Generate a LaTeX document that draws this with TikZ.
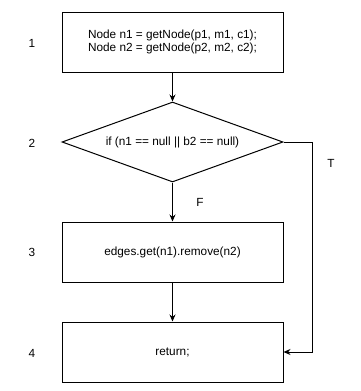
\documentclass[tikz,border=0pt]{standalone}
\usepackage{fontspec}
\setmainfont{Liberation Sans}
\usetikzlibrary{arrows.meta,shapes.geometric}

\begin{document}
\begin{tikzpicture}[
    x=1pt, y=-1pt,
    box/.style={rectangle, draw, line width=1pt, align=center,
                font=\fontsize{11.8}{13.5}\selectfont, minimum width=221pt,
                minimum height=60pt},
    cond/.style={diamond, draw, line width=1pt, aspect=2.76, inner sep=0pt,
                 font=\fontsize{11.8}{13.5}\selectfont, minimum width=221pt,
                 minimum height=80pt},
    num/.style={font=\fontsize{11.8}{13.5}\selectfont},
    >={Stealth[length=7pt,width=6pt]}
]
\useasboundingbox (0,0) rectangle (361,391);

% Bloques del flujo
\node[box] (get) at (172.5,42)
    {Node n1 = getNode(p1, m1, c1);\\Node n2 = getNode(p2, m2, c2);};

\node[cond] (test) at (172.5,142)
    {if (n1 == null || b2 == null)};

\node[box] (rem) at (172.5,252)
    {edges.get(n1).remove(n2)};

\node[box] (ret) at (172.5,352)
    {return;};

% Numeros de linea
\node[num] (l1) at (32,43) {1};
\node[num] (l2) at (32,143) {2};
\node[num] (l3) at (32,252) {3};
\node[num] (l4) at (32,353) {4};

% Flechas
\draw[->, line width=1pt] (get) -- (test);
\draw[->, line width=1pt] (test) -- (rem);
\draw[->, line width=1pt] (rem) -- (ret);

\coordinate (tturn) at (312,142);
\draw[->, line width=1pt] (test.east) -- (tturn) |- (ret.east);

% Etiquetas de rama
\node[num] (tl) at (331,163) {T};
\node[num] (fl) at (200,202) {F};

\end{tikzpicture}
\end{document}
